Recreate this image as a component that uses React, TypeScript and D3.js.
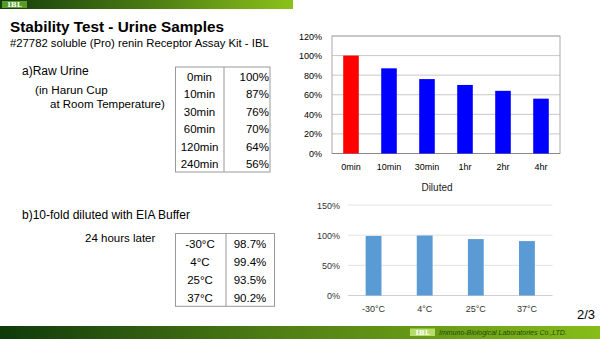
import React from "react";
import * as d3 from "d3";

const rawCategories = ["0min", "10min", "30min", "1hr", "2hr", "4hr"];
const rawValues = [100, 87, 76, 70, 64, 56];
const rawColors = ["#ff0000", "#0000ff", "#0000ff", "#0000ff", "#0000ff", "#0000ff"];
const rawTicks = [0, 20, 40, 60, 80, 100, 120];

const tableRawTimes = ["0min", "10min", "30min", "60min", "120min", "240min"];
const tableRawValues = ["100%", "87%", "76%", "70%", "64%", "56%"];

const dilCategories = ["-30°C", "4°C", "25°C", "37°C"];
const dilValues = [98.7, 99.4, 93.5, 90.2];
const dilTicks = [0, 50, 100, 150];
const tableDilValues = ["98.7%", "99.4%", "93.5%", "90.2%"];

const FONT = "'Liberation Sans', Arial, sans-serif";

export default function App() {
  // top chart
  const tx = d3.scaleBand().domain(rawCategories).range([332, 560]).paddingInner(0.59).paddingOuter(0.295);
  const ty = d3.scaleLinear().domain([0, 120]).range([153.5, 36]);
  // bottom chart
  const bx = d3.scaleBand().domain(dilCategories).range([348, 552.5]).paddingInner(0.69).paddingOuter(0.345);
  const by = d3.scaleLinear().domain([0, 150]).range([295.5, 205]);

  const row1H = 17.5;
  const t1Top = 67;
  const row2H = 18.2;
  const t2Top = 233.5;

  return (
    <svg width={600} height={339} style={{ position: "absolute", left: 0, top: 0 }} fontFamily={FONT}>
      <defs>
        <linearGradient id="gTop" x1="0" x2="1" y1="0" y2="0">
          <stop offset="0" stopColor="#123d0c" />
          <stop offset="0.5" stopColor="#4a7a12" />
          <stop offset="1" stopColor="#8cc21a" />
        </linearGradient>
        <linearGradient id="gBot" x1="0" x2="1" y1="0" y2="0">
          <stop offset="0" stopColor="#0e3a0a" />
          <stop offset="0.45" stopColor="#4e7c14" />
          <stop offset="1" stopColor="#86bd18" />
        </linearGradient>
      </defs>
      <rect x={0} y={0} width={600} height={339} fill="#fff" />
      {/* top banner */}
      <rect x={0} y={0} width={293} height={9} fill="url(#gTop)" />
      <rect x={2} y={1} width={25} height={7} fill="#5a9a2a" />
      <text x={14.5} y={7.3} fontSize={7} fontWeight="bold" fill="#fff" textAnchor="middle" fontFamily="'DejaVu Serif', serif">IBL</text>

      {/* title */}
      <text x={10} y={32} fontSize={15.3} fontWeight="bold" fill="#000">Stability Test - Urine Samples</text>
      <text x={10} y={47} fontSize={11.3} fill="#000">#27782 soluble (Pro) renin Receptor Assay Kit - IBL</text>

      {/* section a */}
      <text x={22} y={75} fontSize={12} fill="#000">a)Raw Urine</text>
      <text x={35} y={94} fontSize={11.7} fill="#000">(in Harun Cup</text>
      <text x={50} y={108} fontSize={11.5} fill="#000">at Room Temperature)</text>

      <rect x={175.5} y={t1Top} width={94.5} height={row1H * 6} fill="none" stroke="#999" strokeWidth={1} />
      <line x1={224} x2={224} y1={t1Top} y2={t1Top + row1H * 6} stroke="#999" />
      {tableRawTimes.map((t, i) => (
        <text key={t} x={199.5} y={t1Top + row1H * i + 13.5} fontSize={11.5} textAnchor="middle" fill="#000">{t}</text>
      ))}
      {tableRawValues.map((v, i) => (
        <text key={i} x={269} y={t1Top + row1H * i + 13.5} fontSize={11.5} textAnchor="end" fill="#000">{v}</text>
      ))}

      {/* section b */}
      <text x={22} y={219} fontSize={12} fill="#000">b)10-fold diluted with EIA Buffer</text>
      <text x={85} y={242} fontSize={11.5} fill="#000">24 hours later</text>
      <rect x={175.5} y={t2Top} width={99} height={row2H * 4} fill="none" stroke="#999" strokeWidth={1} />
      <line x1={226} x2={226} y1={t2Top} y2={t2Top + row2H * 4} stroke="#999" />
      {dilCategories.map((t, i) => (
        <text key={t} x={200} y={t2Top + row2H * i + 14} fontSize={11.5} textAnchor="middle" fill="#000">{t}</text>
      ))}
      {tableDilValues.map((v, i) => (
        <text key={i} x={250} y={t2Top + row2H * i + 14} fontSize={11.5} textAnchor="middle" fill="#000">{v}</text>
      ))}

      {/* top chart */}
      {rawTicks.map((t) => (
        <g key={t}>
          <line x1={332} x2={560} y1={ty(t)} y2={ty(t)} stroke="#c8c8c8" strokeWidth={1} />
          <text x={322} y={ty(t) + 3.5} fontSize={9} textAnchor="end" fill="#000">{t}%</text>
        </g>
      ))}
      <rect x={332} y={ty(120)} width={228} height={ty(0) - ty(120)} fill="none" stroke="#aaa" />
      <line x1={332} x2={560} y1={ty(0)} y2={ty(0)} stroke="#888" />
      {rawCategories.map((c, i) => (
        <g key={c}>
          <rect x={tx(c)} y={ty(rawValues[i])} width={tx.bandwidth()} height={ty(0) - ty(rawValues[i])} fill={rawColors[i]} />
          <text x={(tx(c) as number) + tx.bandwidth() / 2} y={170} fontSize={9} textAnchor="middle" fill="#000">{c}</text>
        </g>
      ))}

      {/* bottom chart */}
      <text x={437} y={191} fontSize={10} textAnchor="middle" fill="#222">Diluted</text>
      {dilTicks.map((t) => (
        <g key={t}>
          <line x1={348} x2={552.5} y1={by(t)} y2={by(t)} stroke={t === 0 ? "#d0d0d0" : "#e2e2e2"} strokeWidth={1} />
          <text x={340} y={by(t) + 3.5} fontSize={9} textAnchor="end" fill="#333">{t}%</text>
        </g>
      ))}
      {dilCategories.map((c, i) => (
        <g key={c}>
          <rect x={bx(c)} y={by(dilValues[i])} width={bx.bandwidth()} height={by(0) - by(dilValues[i])} fill="#5b9bd5" />
          <text x={(bx(c) as number) + bx.bandwidth() / 2} y={312} fontSize={9} textAnchor="middle" fill="#333">{c}</text>
        </g>
      ))}

      <text x={577} y={319} fontSize={13} fill="#000">2/3</text>

      {/* footer */}
      <rect x={0} y={326} width={600} height={13} fill="url(#gBot)" />
      <rect x={410} y={328.5} width={25} height={7.5} fill="#b6dc6a" />
      <text x={422.5} y={335} fontSize={7} fontWeight="bold" fill="#fff" textAnchor="middle" fontFamily="'DejaVu Serif', serif">IBL</text>
      <text x={439} y={335} fontSize={7} fontStyle="italic" fill="#1e4a10">Immuno-Biological Laboratories Co.,LTD.</text>
    </svg>
  );
}
